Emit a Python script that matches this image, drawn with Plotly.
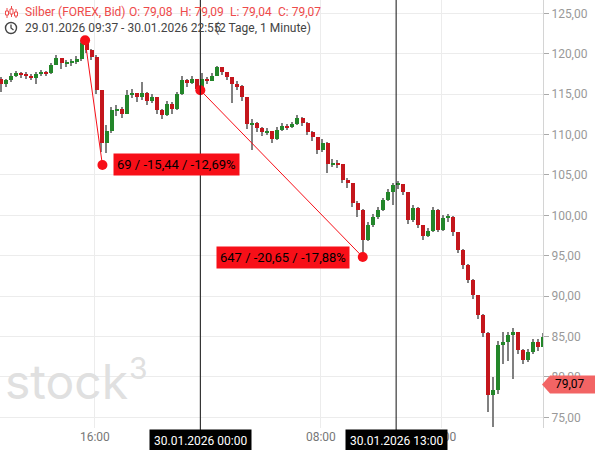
import plotly.graph_objects as go
from datetime import datetime, timedelta

# ---------------- data ----------------
start_time = datetime(2026, 1, 29, 9, 37)
break_start = datetime(2026, 1, 29, 23, 0)
break_end = datetime(2026, 1, 30, 0, 0)
candle_minutes = 20

first_open = 116.9
closes = [116.2, 116.7, 117.3, 117.6, 117.4, 117.3, 117.0, 117.5, 117.7, 117.6,
          118.6, 119.5, 118.8, 118.9, 119.0, 119.3, 121.3, 120.5, 119.6, 115.5,
          109.0, 110.4, 113.0, 113.1, 112.6, 114.9, 115.1, 114.6, 115.2, 114.2,
          114.7, 113.0, 112.4, 113.8, 113.1, 115.0, 116.8, 116.4, 116.9, 115.6,
          116.9, 116.6, 117.3, 118.3, 117.7, 117.1, 116.2, 116.0, 114.6, 111.3,
          111.4, 110.8, 110.3, 110.4, 109.4, 110.6, 111.0, 110.9, 111.3, 112.1,
          111.4, 110.3, 109.7, 108.1, 109.0, 106.3, 106.5, 106.3, 104.4, 104.0,
          101.5, 100.7, 96.9, 98.8, 99.8, 100.7, 101.9, 102.9, 103.8, 103.9,
          102.9, 99.4, 100.9, 98.8, 97.4, 98.1, 100.6, 98.2, 99.7, 99.8,
          97.9, 95.7, 93.9, 92.0, 90.2, 87.7, 85.4, 77.8, 78.4, 84.0,
          84.3, 85.2, 85.5, 83.3, 82.1, 83.1, 84.3, 83.7, 84.9]
highs = [117.1, 116.9, 117.6, 117.9, 117.8, 117.7, 117.5, 117.8, 118.0, 117.9,
         118.9, 119.8, 119.5, 119.2, 119.3, 119.7, 121.67, 121.5, 120.6, 119.8,
         115.5, 111.2, 113.4, 113.6, 113.4, 115.5, 115.6, 115.2, 116.5, 115.3,
         115.0, 114.6, 113.2, 114.1, 114.0, 115.3, 117.2, 116.9, 117.3, 116.8,
         117.6, 117.1, 117.6, 118.5, 118.4, 117.8, 117.0, 116.6, 116.1, 114.5,
         111.9, 111.6, 110.9, 110.8, 110.4, 110.9, 111.4, 111.3, 111.6, 112.4,
         112.2, 111.5, 110.4, 109.7, 109.4, 109.1, 107.0, 106.9, 106.4, 104.6,
         104.0, 101.8, 100.8, 99.2, 100.2, 101.0, 102.2, 103.3, 104.0, 104.3,
         103.9, 102.9, 101.3, 101.0, 98.8, 98.4, 101.0, 100.8, 100.1, 100.2,
         99.9, 97.9, 95.8, 94.0, 92.1, 90.2, 87.8, 85.5, 80.0, 84.5,
         85.6, 85.6, 86.0, 85.5, 83.4, 83.5, 84.7, 84.7, 85.4]
lows = [115.3, 115.9, 116.5, 117.1, 117.0, 116.9, 116.7, 116.3, 117.3, 117.2,
        117.5, 118.6, 118.1, 118.3, 118.5, 118.7, 119.1, 120.1, 119.2, 115.0,
        107.8, 107.7, 110.2, 112.3, 112.1, 112.5, 114.5, 114.0, 114.3, 113.7,
        113.9, 112.6, 111.9, 112.3, 112.5, 113.0, 114.9, 115.9, 116.2, 115.3,
        115.5, 116.2, 116.6, 117.2, 117.4, 116.8, 113.9, 115.5, 114.2, 110.7,
        108.1, 110.3, 109.8, 109.9, 108.9, 109.3, 110.4, 110.5, 110.8, 111.2,
        111.0, 109.9, 109.2, 107.6, 107.9, 105.3, 106.0, 105.8, 104.0, 103.4,
        101.0, 99.8, 95.3, 96.8, 98.6, 99.6, 100.5, 101.8, 101.3, 103.3,
        102.5, 98.9, 99.2, 98.4, 96.9, 97.3, 97.9, 97.9, 98.1, 99.2,
        97.5, 95.3, 93.4, 91.6, 89.7, 87.2, 85.0, 75.6, 73.8, 77.9,
        81.6, 82.0, 79.7, 82.8, 81.6, 81.8, 82.9, 83.2, 83.7]

tick_times = [datetime(2026, 1, 29, 16, 0), datetime(2026, 1, 30, 0, 0),
              datetime(2026, 1, 30, 8, 0), datetime(2026, 1, 30, 16, 0)]
tick_labels = ["16:00", "", "08:00", "16:00"]

crosshair_times = [datetime(2026, 1, 30, 0, 0), datetime(2026, 1, 30, 13, 0)]
crosshair_labels = ["30.01.2026 00:00", "30.01.2026 13:00"]

# measurements: (start time, bars, start price, end price, label)
m1_time, m1_bars, m1_p0, m1_p1 = datetime(2026, 1, 29, 15, 21), 69, 121.67, 106.23
m1_label = "69 / -15,44 / -12,69%"
m2_time, m2_bars, m2_p0, m2_p1 = datetime(2026, 1, 30, 0, 0), 647, 115.49, 94.84
m2_label = "647 / -20,65 / -17,88%"

last_price = 79.07
last_label = "79,07"
title_name = "Silber (FOREX, Bid)"
ohlc_texts = ["O: 79,08", "H: 79,09", "L: 79,04", "C: 79,07"]
period_text = "29.01.2026 09:37 - 30.01.2026 22:55"
period_extra = "(2 Tage, 1 Minute)"

# ---------------- helpers ----------------
def idx(dt):
    m = (dt - start_time).total_seconds() / 60.0
    if dt >= break_end:
        m -= (break_end - break_start).total_seconds() / 60.0
    return m

opens = [first_open] + closes[:-1]
xs = [candle_minutes * i + candle_minutes / 2 for i in range(len(closes))]
hi = [max(h, o, c) for h, o, c in zip(highs, opens, closes)]
lo = [min(l, o, c) for l, o, c in zip(lows, opens, closes)]

UP = "#23862a"
DOWN = "#c4161c"
WICK = "#808080"
MRED = "#f70f18"

PW, PH = 543.0, 428.0
def px(x):
    return x / PW
def py(y):
    return 1 - y / PH

FONT = "Roboto, Arial, sans-serif"

fig = go.Figure()
fig.add_trace(go.Bar(x=xs, y=[h - l for h, l in zip(hi, lo)], base=lo, width=6,
                     marker=dict(color=WICK, line=dict(width=0)), hoverinfo="skip"))
fig.add_trace(go.Bar(x=xs, y=[max(abs(c - o), 0.1) for o, c in zip(opens, closes)],
                     base=[min(o, c) for o, c in zip(opens, closes)], width=16,
                     marker=dict(color=[UP if c >= o else DOWN for o, c in zip(opens, closes)],
                                 line=dict(width=0)), hoverinfo="skip"))

# measurement lines
for t, n, p0, p1 in [(m1_time, m1_bars, m1_p0, m1_p1), (m2_time, m2_bars, m2_p0, m2_p1)]:
    x0 = idx(t)
    x1 = x0 + n
    fig.add_trace(go.Scatter(x=[x0, x1], y=[p0, p1], mode="lines+markers",
                             line=dict(color=MRED, width=1),
                             marker=dict(color=MRED, size=10), hoverinfo="skip"))

shapes = []
annotations = []

# crosshair lines
for t, lab in zip(crosshair_times, crosshair_labels):
    xv = idx(t)
    shapes.append(dict(type="line", xref="x", yref="paper", x0=xv, x1=xv, y0=py(450), y1=1,
                       line=dict(color="#111111", width=1)))
    annotations.append(dict(x=xv, xref="x", y=py(440.5), yref="paper", text=lab,
                            showarrow=False, xanchor="center", yanchor="middle",
                            bgcolor="#000000", borderpad=4,
                            font=dict(family=FONT, size=12, color="#ffffff")))

# measurement labels
annotations.append(dict(x=idx(m1_time) + m1_bars, y=m1_p1, xref="x", yref="y", text=m1_label,
                        showarrow=False, xanchor="left", yanchor="middle", xshift=11,
                        bgcolor=MRED, borderpad=3, font=dict(family=FONT, size=13, color="#000000")))
annotations.append(dict(x=idx(m2_time) + m2_bars, y=m2_p1, xref="x", yref="y", text=m2_label,
                        showarrow=False, xanchor="right", yanchor="middle", xshift=-13,
                        bgcolor=MRED, borderpad=3, font=dict(family=FONT, size=13, color="#000000")))

# last price label (arrow box)
dy = 9 * (126.65 - 73.68) / PH
shapes.append(dict(type="path", xref="paper", yref="y", layer="above",
                   path=(f"M {px(542)} {last_price} L {px(550)} {last_price + dy} "
                         f"L {px(596)} {last_price + dy} L {px(596)} {last_price - dy} "
                         f"L {px(550)} {last_price - dy} Z"),
                   fillcolor="#f26464", line=dict(width=0)))
annotations.append(dict(x=px(553), xref="paper", y=last_price, yref="y", text=last_label,
                        showarrow=False, xanchor="left", yanchor="middle",
                        font=dict(family=FONT, size=12, color="#000000")))

# header texts
annotations.append(dict(x=px(23), y=py(12), xref="paper", yref="paper", text=title_name,
                        showarrow=False, xanchor="left", yanchor="middle",
                        font=dict(family=FONT, size=12, color="#ee4a4a")))
for xpos, txt in zip([127, 178, 228, 276], ohlc_texts):
    annotations.append(dict(x=px(xpos), y=py(12), xref="paper", yref="paper", text=txt,
                            showarrow=False, xanchor="left", yanchor="middle",
                            font=dict(family=FONT, size=12, color="#ee4a4a")))
annotations.append(dict(x=px(23), y=py(28), xref="paper", yref="paper", text=period_text,
                        showarrow=False, xanchor="left", yanchor="middle",
                        font=dict(family=FONT, size=12, color="#444444")))
annotations.append(dict(x=px(213), y=py(28), xref="paper", yref="paper", text=period_extra,
                        showarrow=False, xanchor="left", yanchor="middle",
                        font=dict(family=FONT, size=12, color="#444444")))

# watermark
annotations.append(dict(x=px(3), y=py(381), xref="paper", yref="paper",
                        text="stock", showarrow=False, xanchor="left", yanchor="middle",
                        font=dict(family="Inter, Lato, sans-serif", size=48, color="#e0e0e0")))
annotations.append(dict(x=px(127), y=py(368), xref="paper", yref="paper",
                        text="3", showarrow=False, xanchor="left", yanchor="middle",
                        font=dict(family="Inter, Lato, sans-serif", size=30, color="#e0e0e0")))

# icons: candles icon
for cx, top, bot, btop, bbot in [(7, 8, 18, 11, 15), (11.5, 6, 17, 9, 14), (16, 9, 18, 12, 16)]:
    shapes.append(dict(type="line", xref="paper", yref="paper", x0=px(cx), x1=px(cx),
                       y0=py(bot), y1=py(top), line=dict(color="#ee4a4a", width=1)))
    shapes.append(dict(type="rect", xref="paper", yref="paper", x0=px(cx - 1.5), x1=px(cx + 1.5),
                       y0=py(bbot), y1=py(btop), line=dict(color="#ee4a4a", width=1),
                       fillcolor="#ffffff"))
# clock icon
shapes.append(dict(type="circle", xref="paper", yref="paper", x0=px(5.5), x1=px(16.5),
                   y0=py(33.5), y1=py(22.5), line=dict(color="#444444", width=1.4)))
shapes.append(dict(type="path", xref="paper", yref="paper",
                   path=f"M {px(11)} {py(24.5)} L {px(11)} {py(28)} L {px(13.5)} {py(30)}",
                   line=dict(color="#444444", width=1.3)))

fig.update_layout(
    width=595, height=450,
    margin=dict(l=0, r=52, t=0, b=22),
    paper_bgcolor="#ffffff", plot_bgcolor="#ffffff",
    barmode="overlay", showlegend=False, bargap=0,
    separators=",.",
    shapes=shapes, annotations=annotations,
    xaxis=dict(range=[5, 2168], tickvals=[idx(t) for t in tick_times], ticktext=tick_labels,
               showgrid=True, gridcolor="#ececec", gridwidth=1, zeroline=False, showline=False,
               ticks="", tickfont=dict(family=FONT, size=12, color="#777777"), fixedrange=True),
    yaxis=dict(side="right", range=[73.68, 126.65], dtick=5, tick0=0, tickformat=".2f",
               showgrid=True, gridcolor="#ececec", gridwidth=1, zeroline=False,
               showline=True, linecolor="#d4d4d4", linewidth=1,
               ticks="outside", ticklen=5, tickcolor="#aaaaaa",
               tickfont=dict(family=FONT, size=12, color="#999999")),
)

fig.write_html("out.html", config={"displayModeBar": False},
               post_script="document.body.style.margin='0';")
